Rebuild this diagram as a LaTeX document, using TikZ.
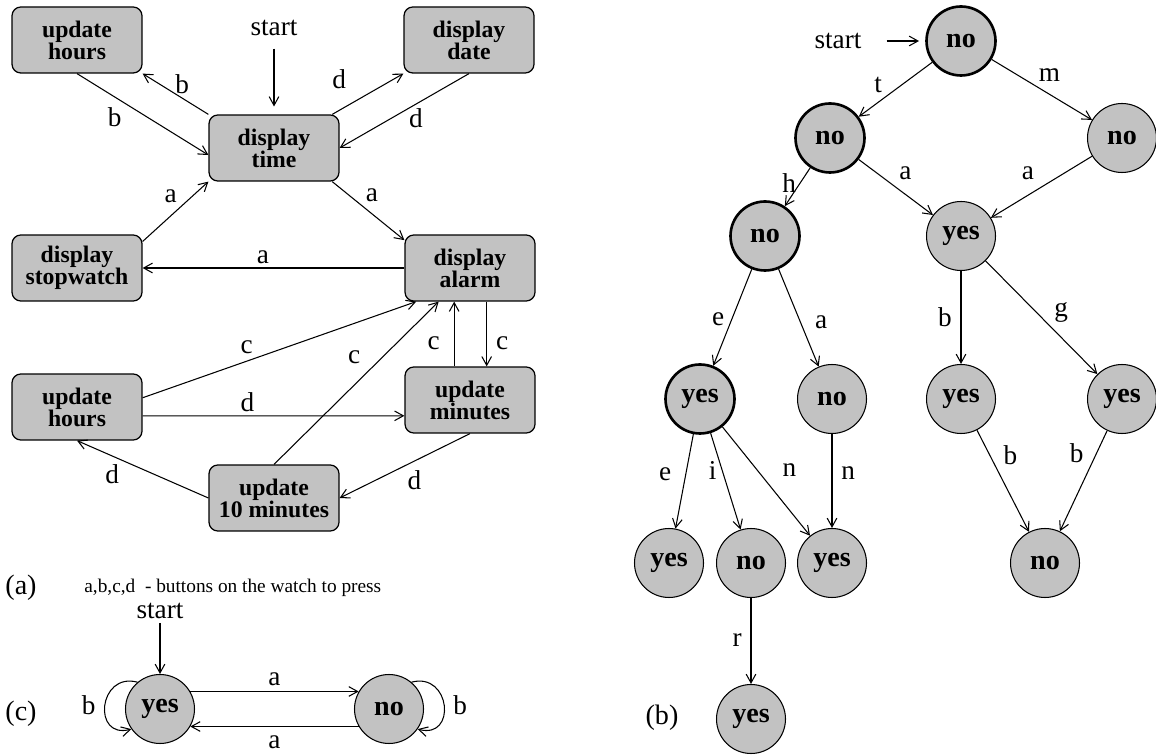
\documentclass[tikz,border=0pt]{standalone}
\usepackage{fontspec}
\setmainfont{Liberation Serif}
\usetikzlibrary{arrows.meta}
\definecolor{halftone}{gray}{0.76}

\begin{document}
\begin{tikzpicture}[x=0.02cm, y=-0.02cm, line width=.6pt,
    >={Straight Barb[length=5pt,width=5.5pt]},
    box/.style={draw, line width=.7pt, rounded corners=5pt, fill=halftone,
      minimum width=2.6cm, minimum height=1.32cm, inner sep=1pt, align=center,
      font=\bfseries\fontsize{13.5}{12.5}\selectfont},
    state/.style={draw, circle, line width=.6pt, fill=halftone, minimum size=1.38cm,
      inner sep=0pt, font=\bfseries\fontsize{16}{18}\selectfont},
    heavy/.style={state, line width=1.5pt},
    lbl/.style={inner sep=2pt, font=\fontsize{15.5}{18}\selectfont},
    tag/.style={font=\fontsize{16}{18}\selectfont}]
  \useasboundingbox (0,0) rectangle (1156,756);

      %%(a) watch
      \node[box] (uh1) at (77,40) {update\\hours};
      \node[box] (dt) at (274,148) {display\\time};
      \node[box] (dd) at (469,40) {display\\date};
      \node[box] (ds) at (77,268) {display\\stopwatch};
      \node[box] (da) at (470,268) {display\\alarm};
      \node[box] (uh2) at (77,407) {update\\hours};
      \node[box] (um) at (470,400) {update\\minutes};
      \node[box] (u10) at (274,498) {update\\10 minutes};
        \node[lbl] (sta) at (274,28) {start};

        \draw[->, shorten <=5pt, shorten >=4.5pt] (sta) -- (dt);
        \draw[->] (dt.north west) -- node[lbl, above, pos=.4]{b} (uh1.south east);
        \draw[->] (uh1.south) -- node[lbl, below left, pos=.37]{b} ([yshift=-4pt]dt.west);
        \draw[->] (dt.30) -- node[lbl, above left=4pt, pos=.35]{d} (dd.south west);
        \draw[->] (dd.south) -- node[lbl, below, pos=.41]{d} (dt.east);
        \draw[->] (ds.22) -- node[lbl, above left, pos=.58]{a} (dt.south west);
        \draw[->] (dt.-30) -- node[lbl, above right, pos=.41]{a} (da.157);
        \draw[->] (da.west) -- node[lbl, above, pos=.54]{a} (ds.east);

        %%alarm setting
        \draw[->] (uh2.8) -- node[lbl, above=2pt, pos=.38]{c} (da.212);
        \draw[->] (u10.north) -- node[lbl, above left=2pt, pos=.57]{c} (da.227);
        \draw[->] ([xshift=-9pt]um.north) -- node[lbl, left=6pt, pos=.36]{c} ([xshift=-9pt]da.south);
        \draw[->] ([xshift=9.5pt]da.south) -- node[lbl, right=3pt, pos=.64]{c} ([xshift=9.5pt]um.north);
        \draw[->] ([yshift=-5pt]uh2.east) -- node[lbl, above, pos=.4]{d} ([yshift=-9pt]um.west);
        \draw[->] (u10.west) -- node[lbl, below left, pos=.65]{d} (uh2.south);
        \draw[->] (um.south) -- node[lbl, below right, pos=.51]{d} (u10.east);

      \node[tag] (capa) at (21,588) {(a)};
      \node[anchor=west, font=\fontsize{11}{13}\selectfont] (keys) at (78,588) {a,b,c,d\ \ - buttons on the watch to press};

      %%(b) tree
      \node[lbl] (stb) at (838,41) {start};
      \node[heavy] (n0) at (961,41) {no};
        \node[heavy] (n1) at (830,138) {no};
        \node[state] (n2) at (1122,138) {no};
      \node[heavy] (n3) at (765,236) {no};
      \node[state] (n4) at (961,236) {yes};
        \node[heavy] (y0) at (700,399) {yes};
        \node[state] (n5) at (832,399) {no};
        \node[state] (y1) at (961,399) {yes};
        \node[state] (y2) at (1122,399) {yes};
      \node[state] (y3) at (669,563) {yes};
      \node[state] (n6) at (751,563) {no};
      \node[state] (y4) at (832,563) {yes};
      \node[state] (n7) at (1045,563) {no};
        \node[state] (y5) at (751,719) {yes};
      \node[tag] (capb) at (662,718) {(b)};

        \draw[->, shorten <=12pt, shorten >=3.5pt] (stb) -- (n0);
        \draw[->] (n0) -- node[lbl, above left, pos=.63]{t} (n1);
        \draw[->] (n0) -- node[lbl, above right, pos=.43]{m} (n2);
        \draw[->] (n1) -- node[lbl, left, pos=.4]{h} (n3);
        \draw[->] (n1) -- node[lbl, above right=1pt, pos=.47]{a} (n4);
        \draw[->] (n2) -- node[lbl, above left=2pt, pos=.5]{a} (n4);
        \draw[->] (n3) -- node[lbl, left=2pt, pos=.52]{e} (y0);
        \draw[->] (n3) -- node[lbl, right=6pt, pos=.55]{a} (n5);
        \draw[->] (n4) -- node[lbl, left=3pt, pos=.5]{b} (y1);
        \draw[->] (n4) -- node[lbl, above right, pos=.58]{g} (y2);
        \draw[->] (y0) -- node[lbl, left=6pt, pos=.42]{e} (y3);
        \draw[->] (y0) -- node[lbl, left=1pt, pos=.39]{i} (n6);
        \draw[->] (y0) -- node[lbl, above right=4pt, pos=.56]{n} (y4);
        \draw[->] (n5) -- node[lbl, right=3pt, pos=.42]{n} (y4);
        \draw[->] (y1) -- node[lbl, above right=1pt, pos=.4]{b} (n7);
        \draw[->] (y2) -- node[lbl, above left=1pt, pos=.38]{b} (n7);
        \draw[->] (n6) -- node[lbl, left=3pt, pos=.49]{r} (y5);

      %%(c)
      \node[lbl] (stc) at (160,611) {start};
      \node[state] (yes) at (160,709) {yes};
      \node[state] (no) at (389,709) {no};
      \node[tag] (capc) at (21,714) {(c)};

        \draw[->] (stc) -- (yes);
        \draw[->] (yes.30) -- node[lbl, above=1pt]{a} (no.150);
        \draw[->] (no.210) -- node[lbl, below=3pt]{a} (yes.330);
        \draw[->] (yes.130) to[out=165, in=195, looseness=2.2] node[lbl, left=3pt]{b} (yes.215);
        \draw[->] (no.50) to[out=15, in=-15, looseness=2.2] node[lbl, right=3pt]{b} (no.-35);

\end{tikzpicture}
\end{document}
